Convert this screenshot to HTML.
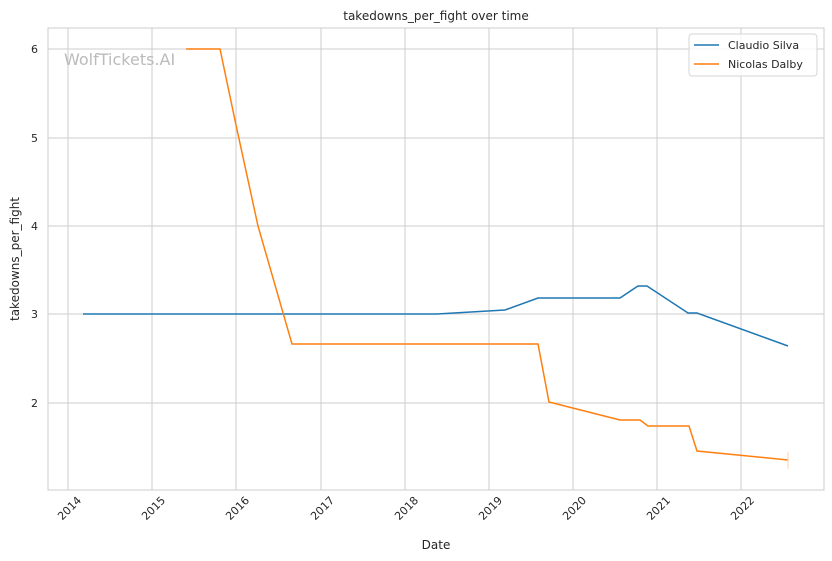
<!DOCTYPE html>
<html><head><style>body{margin:0;background:#fff}svg{display:block}text{font-family:"DejaVu Sans","Liberation Sans",sans-serif;fill:#262626}</style></head>
<body>
<svg width="832" height="561" viewBox="0 0 832 561">
<rect width="832" height="561" fill="#fff"/>
<g stroke="#cccccc" stroke-width="1">
<line x1="68" y1="28" x2="68" y2="490"/><line x1="152" y1="28" x2="152" y2="490"/><line x1="236" y1="28" x2="236" y2="490"/><line x1="321" y1="28" x2="321" y2="490"/><line x1="405" y1="28" x2="405" y2="490"/><line x1="489" y1="28" x2="489" y2="490"/><line x1="573" y1="28" x2="573" y2="490"/><line x1="657" y1="28" x2="657" y2="490"/><line x1="741" y1="28" x2="741" y2="490"/>
<line x1="48" y1="49" x2="824" y2="49"/><line x1="48" y1="138" x2="824" y2="138"/><line x1="48" y1="226" x2="824" y2="226"/><line x1="48" y1="314" x2="824" y2="314"/><line x1="48" y1="403" x2="824" y2="403"/>
</g>
<rect x="48" y="28" width="776" height="462" fill="none" stroke="#cccccc" stroke-width="1"/>
<text x="64" y="65" font-size="16" style="fill:#bbbbbb">WolfTickets.AI</text>
<polyline fill="none" stroke="#1f77b4" stroke-width="1.5" points="83,314 437,314 505,310 538,298 620,298 638,286 647,286 688,313 697,313 788,346"/>
<polyline fill="none" stroke="#ff7f0e" stroke-width="1.5" points="186,49 220,49 236,125 258,226 292,344 538,344 549,402 620,420 640,420 648,426 689,426 697,451 788,460"/>
<line x1="788" y1="452" x2="788" y2="469" stroke="#ffd0a8" stroke-width="1"/>
<g font-size="11" text-anchor="end">
<text x="38" y="53">6</text><text x="38" y="142">5</text><text x="38" y="230">4</text><text x="38" y="318">3</text><text x="38" y="407">2</text>
</g>
<g font-size="11" text-anchor="end">
<text transform="translate(82,501) rotate(-45)">2014</text><text transform="translate(166,501) rotate(-45)">2015</text><text transform="translate(250,501) rotate(-45)">2016</text><text transform="translate(335,501) rotate(-45)">2017</text><text transform="translate(419,501) rotate(-45)">2018</text><text transform="translate(503,501) rotate(-45)">2019</text><text transform="translate(587,501) rotate(-45)">2020</text><text transform="translate(671,501) rotate(-45)">2021</text><text transform="translate(755,501) rotate(-45)">2022</text>
</g>
<text x="436" y="549" font-size="12" text-anchor="middle">Date</text>
<text transform="translate(19,259) rotate(-90)" font-size="12" text-anchor="middle">takedowns_per_fight</text>
<text x="436" y="20" font-size="12" text-anchor="middle">takedowns_per_fight over time</text>
<rect x="689" y="34" width="128" height="42" rx="3" fill="#fff" fill-opacity="0.8" stroke="#d6d6d6"/>
<line x1="694" y1="45" x2="719" y2="45" stroke="#1f77b4" stroke-width="1.5"/>
<line x1="694" y1="64" x2="719" y2="64" stroke="#ff7f0e" stroke-width="1.5"/>
<text x="728" y="49" font-size="11">Claudio Silva</text>
<text x="728" y="68" font-size="11">Nicolas Dalby</text>
</svg>
</body></html>
